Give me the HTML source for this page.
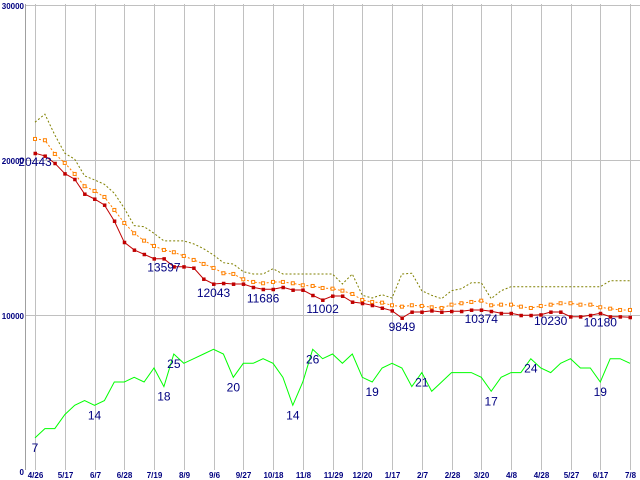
<!DOCTYPE html>
<html><head><meta charset="utf-8"><style>
html,body{margin:0;padding:0;background:#fff;}
svg{display:block;font-family:"Liberation Sans",sans-serif;}
</style></head><body>
<svg id="chart" width="640" height="480" viewBox="0 0 640 480" xmlns="http://www.w3.org/2000/svg">
<g id="grid"></g>
<g id="axes"></g>
<g id="series"></g>
<g id="labels"></g>
</svg>
<script>
const dateLabels = ["4/26","5/17","6/7","6/28","7/19","8/9","9/6","9/27","10/18","11/8","11/29","12/20","1/17","2/7","2/28","3/20","4/8","4/28","5/27","6/17","7/8"];
const yTicks = [0,10000,20000,30000];
const yTickLabels = ["0","","20000","30000"];
const redValues = [20425,20251,19781,19111,18751,17803,17481,17095,16064,14694,14199,13921,13638,13638,13123,13123,13040,12331,12009,12054,12009,
12009,11797,11668,11668,11797,11623,11623,11281,10979,11236,11236,10850,10766,10637,10463,10290,9820,10206,10206,10290,
10206,10251,10251,10335,10335,10251,10122,10122,9993,9993,10032,10206,10206,9903,9903,9993,10122,9903,9903,9865];
const orangeValues = [21345,21262,20379,19800,19091,18300,17997,17610,16774,15937,15273,14797,14456,14199,14051,13812,13555,13298,13040,12699,12654,
12311,12138,12054,12138,12138,12054,11925,11880,11751,11706,11577,11365,10979,10850,10805,10637,10547,10637,10592,10508,
10463,10676,10766,10850,10933,10637,10676,10676,10547,10463,10592,10676,10766,10766,10676,10676,10508,10418,10335,10335];
const oliveValues = [22421,22936,21603,20425,20038,18963,18706,18428,17849,16883,15763,15698,15273,14778,14778,14778,14585,14282,13876,13380,13297,
12801,12653,12653,12994,12653,12653,12653,12653,12653,12653,12009,12653,11281,11107,11320,11107,12653,12698,11577,11281,
11062,11577,11706,12092,12092,11062,11577,11835,11835,11835,11835,11835,11835,11835,11835,11835,11835,12221,12221,12221];
const greenValues = [7,9,9,12,14,15,14,15,19,19,20,19,22,18,25,23,24,25,26,25,20,
23,23,24,23,20,14,19,26,24,25,23,25,20,19,22,23,22,18,21,17,
19,21,21,21,20,17,20,21,21,24,22,21,23,24,22,22,19,24,24,23];
const redLabelIdx = [0,13,18,23,29,37,45,52,57];
const redLabelText = ["20443","13597","12043","11686","11002","9849","10374","10230","10180"];
const greenLabelIdx = [0,6,13,14,20,26,28,34,39,46,50,57];

const NS="http://www.w3.org/2000/svg";
const X0=35, XSTEP=595/60, YB=470.5, YT=4.5;
function xs(i){return X0+i*XSTEP;}
function yp(v){return YB-(v/30000)*(YB-YT);}
function yg(v){return YB-(v/100)*(YB-YT);}
function mk(tag,attrs,parent){const e=document.createElementNS(NS,tag);for(const k in attrs)e.setAttribute(k,attrs[k]);parent.appendChild(e);return e;}
const grid=document.getElementById('grid'),axes=document.getElementById('axes'),series=document.getElementById('series'),labels=document.getElementById('labels');

yTicks.forEach((t,i)=>{
  if(t>0){const l=mk('line',{x1:25,x2:640,y1:Math.round(yp(t))+0.5,y2:Math.round(yp(t))+0.5,stroke:'#c0c0c0','stroke-width':1},grid);
  
  }
  const tx=mk('text',{x:24,y:Math.round(yp(t))+4,'text-anchor':'end','font-size':8,'font-weight':'bold',fill:'#000080'},axes);
  tx.textContent=yTickLabels[i]||String(t);
  
  
});
dateLabels.forEach((d,i)=>{
  const x=Math.round(xs(i*3))+0.5;
  const l=mk('line',{x1:x,x2:x,y1:4,y2:470,stroke:'#c0c0c0','stroke-width':1},grid);
  
  
  const tx=mk('text',{x:x,y:478,'text-anchor':'middle','font-size':8,'font-weight':'bold',fill:'#000080'},axes);
  tx.textContent=d;
  
  
});
const ax=mk('line',{x1:25.5,x2:25.5,y1:4,y2:470,stroke:'#a0a0a0','stroke-width':1},axes);



function poly(vals,fy,stroke,dash,name){
  const pts=vals.map((v,i)=>xs(i).toFixed(1)+','+fy(v).toFixed(1)).join(' ');
  const p=mk('polyline',{points:pts,fill:'none',stroke:stroke,'stroke-width':1},series);
  if(dash)p.setAttribute('stroke-dasharray',dash);
  
  
}
poly(oliveValues,yp,'#808000','2 2','olive-line');
poly(orangeValues,yp,'#ff8000','2 2','orange-line');
orangeValues.forEach((v,i)=>{
  const r=mk('rect',{x:xs(i)-1.5,y:yp(v)-1.5,width:3,height:3,fill:'#fff',stroke:'#ff8000','stroke-width':1},series);
  
  
});
poly(redValues,yp,'#c00000',null,'red-line');
redValues.forEach((v,i)=>{
  const r=mk('rect',{x:xs(i)-1.5,y:yp(v)-1.5,width:3.5,height:3.5,fill:'#c00000'},series);
  
  
});
poly(greenValues,yg,'#00ff00',null,'green-line');

redLabelIdx.forEach((idx,k)=>{
  const t=mk('text',{x:xs(idx),y:yp(redValues[idx])+13,'text-anchor':'middle','font-size':12,fill:'#000080'},labels);
  t.textContent=redLabelText[k];
  
  
});
greenLabelIdx.forEach(idx=>{
  const t=mk('text',{x:xs(idx),y:yg(greenValues[idx])+14,'text-anchor':'middle','font-size':12,fill:'#000080'},labels);
  t.textContent=String(greenValues[idx]);
  
  
});
</script>
</body></html>
